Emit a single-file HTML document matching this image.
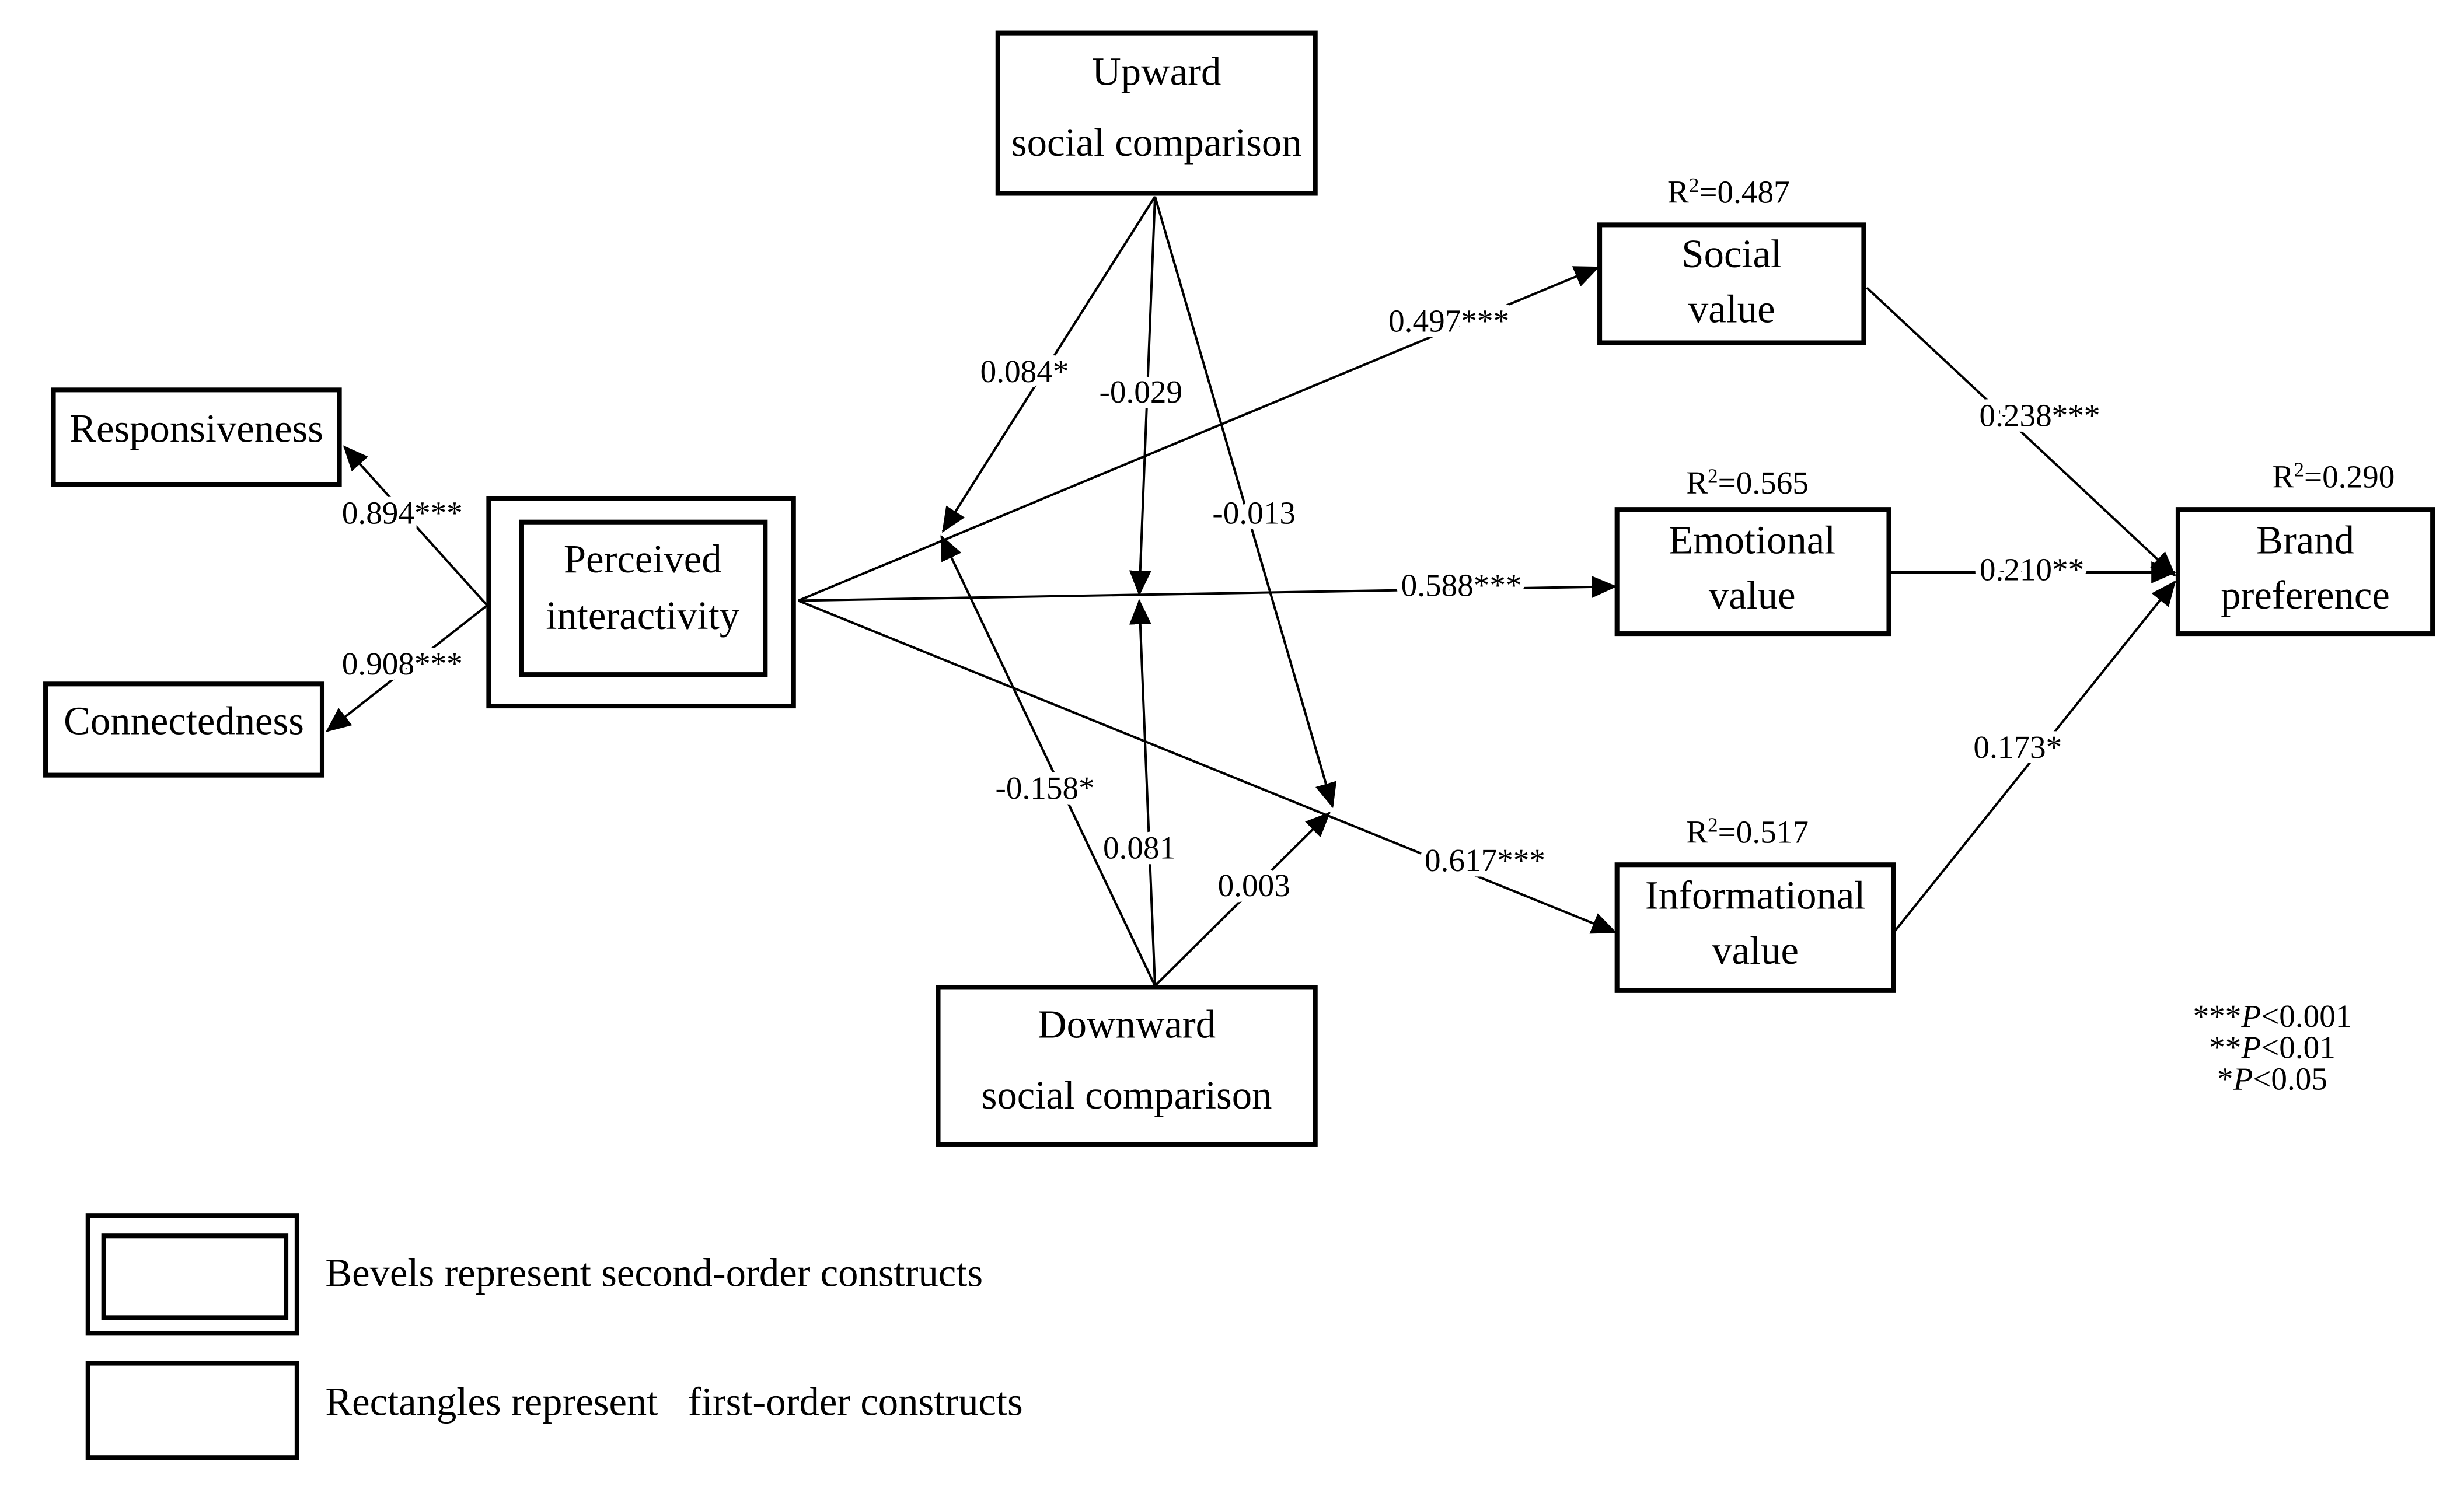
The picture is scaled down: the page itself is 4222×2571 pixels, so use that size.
<!DOCTYPE html>
<html><head><meta charset="utf-8"><style>
html,body{margin:0;padding:0;background:#fff;width:4222px;height:2571px;overflow:hidden}
svg{display:block}
text{font-family:"Liberation Serif",serif;fill:#000}
.b{font-size:25.5px}
.l{font-size:20.5px}
.lb{font-size:20.5px;paint-order:stroke;stroke:#fff;stroke-width:7px}
</style></head><body>
<svg width="4222" height="2571" viewBox="0 0 1568 954" preserveAspectRatio="none" xmlns="http://www.w3.org/2000/svg">
<defs>
<marker id="A" markerWidth="16" markerHeight="14" refX="15" refY="7" orient="auto" markerUnits="userSpaceOnUse"><path d="M0,0 L16,7 L0,14 Z" fill="#000"/></marker></defs>
<g stroke="#000" stroke-width="1.5" fill="none">
<line x1="310" y1="385" x2="219" y2="284" marker-end="url(#A)"/>
<line x1="310" y1="385" x2="208" y2="465" marker-end="url(#A)"/>
<line x1="508" y1="382" x2="1017" y2="170" marker-end="url(#A)"/>
<line x1="508" y1="382" x2="1028" y2="373" marker-end="url(#A)"/>
<line x1="508" y1="382" x2="1028" y2="593" marker-end="url(#A)"/>
<line x1="735" y1="125" x2="600" y2="338" marker-end="url(#A)"/>
<line x1="735" y1="125" x2="725" y2="378" marker-end="url(#A)"/>
<line x1="735" y1="125" x2="848" y2="513" marker-end="url(#A)"/>
<line x1="735" y1="627" x2="599" y2="341" marker-end="url(#A)"/>
<line x1="735" y1="627" x2="725" y2="382" marker-end="url(#A)"/>
<line x1="735" y1="627" x2="846" y2="517" marker-end="url(#A)"/>
<line x1="1188" y1="183" x2="1384" y2="366" marker-end="url(#A)"/>
<line x1="1203" y1="364" x2="1384" y2="364" marker-end="url(#A)"/>
<line x1="1206" y1="592" x2="1384" y2="370" marker-end="url(#A)"/>
</g>
<g stroke="#000" stroke-width="3" fill="#fff">
<rect x="635" y="21" width="202" height="102"/>
<rect x="1018" y="143" width="168" height="75"/>
<rect x="34" y="248" width="182" height="60"/>
<rect x="29" y="435" width="176" height="58"/>
<rect x="311" y="317" width="194" height="132"/>
<rect x="332" y="332" width="155" height="97"/>
<rect x="1029" y="324" width="173" height="79"/>
<rect x="1386" y="324" width="162" height="79"/>
<rect x="1029" y="550" width="176" height="80"/>
<rect x="597" y="628" width="240" height="100"/>
<rect x="56" y="773" width="133" height="75"/>
<rect x="66" y="786" width="116" height="52"/>
<rect x="56" y="867" width="133" height="60"/>
</g>
<g class="b" text-anchor="middle">
<text x="736" y="54">Upward</text><text x="736" y="99">social comparison</text>
<text x="1102" y="170">Social</text><text x="1102" y="205">value</text>
<text x="125" y="281">Responsiveness</text>
<text x="117" y="467">Connectedness</text>
<text x="409" y="364">Perceived</text><text x="409" y="400">interactivity</text>
<text x="1115" y="352">Emotional</text><text x="1115" y="387">value</text>
<text x="1467" y="352">Brand</text><text x="1467" y="387">preference</text>
<text x="1117" y="578">Informational</text><text x="1117" y="613">value</text>
<text x="717" y="660">Downward</text><text x="717" y="705">social comparison</text>
</g>
<g class="b"><text x="207" y="818">Bevels represent second-order constructs</text>
<text x="207" y="900">Rectangles represent &#160;&#160;first-order constructs</text></g>
<g class="l" text-anchor="middle">
<text x="1100" y="129">R<tspan font-size="13" dy="-7">2</tspan><tspan dy="7">=0.487</tspan></text>
<text x="1112" y="314">R<tspan font-size="13" dy="-7">2</tspan><tspan dy="7">=0.565</tspan></text>
<text x="1485" y="310">R<tspan font-size="13" dy="-7">2</tspan><tspan dy="7">=0.290</tspan></text>
<text x="1112" y="536">R<tspan font-size="13" dy="-7">2</tspan><tspan dy="7">=0.517</tspan></text>
</g>
<g class="lb" text-anchor="middle">
<text x="256" y="333">0.894***</text>
<text x="256" y="429">0.908***</text>
<text x="922" y="211">0.497***</text>
<text x="930" y="379">0.588***</text>
<text x="945" y="554">0.617***</text>
<text x="652" y="243">0.084*</text>
<text x="726" y="256">-0.029</text>
<text x="798" y="333">-0.013</text>
<text x="665" y="508">-0.158*</text>
<text x="725" y="546">0.081</text>
<text x="798" y="570">0.003</text>
<text x="1298" y="271">0.238***</text>
<text x="1293" y="369">0.210**</text>
<text x="1284" y="482">0.173*</text>
</g>
<g class="l" text-anchor="middle">
<text x="1446" y="653">***<tspan font-style="italic">P</tspan>&lt;0.001</text>
<text x="1446" y="673">**<tspan font-style="italic">P</tspan>&lt;0.01</text>
<text x="1446" y="693">*<tspan font-style="italic">P</tspan>&lt;0.05</text>
</g>
</svg>
</body></html>
